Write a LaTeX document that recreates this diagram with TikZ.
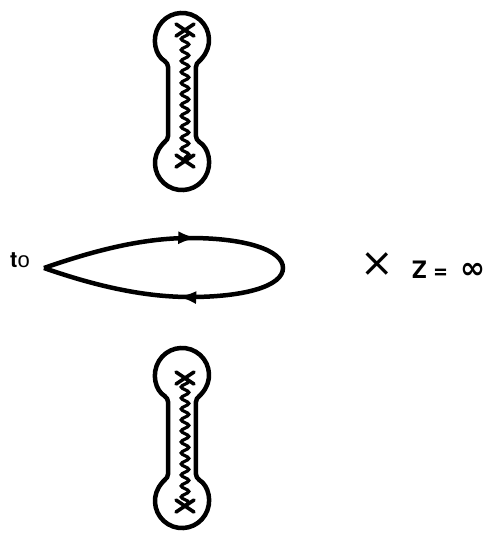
\documentclass[tikz,border=0pt]{standalone}
\usepackage{fontspec}
\setmainfont{Liberation Sans}
\newfontfamily\heavyfont{texgyreheros-bold}[Extension=.otf]
\newfontfamily\symfont{DejaVu Sans}
\newfontfamily\heavysym{DejaVu Sans Bold}
\usetikzlibrary{arrows.meta,calc,decorations.pathmorphing,decorations.markings}

\begin{document}
\begin{tikzpicture}[x=1pt, y=1pt, >={Latex[length=19pt,width=13pt]},
    bell/.style={line width=4.5pt, rounded corners=4pt},
    branch/.style={line width=3.2pt, decorate, decoration={snake, segment length=11pt, amplitude=3.8pt}},
    pole/.style={line width=3.6pt, line cap=round},
    loop path/.style={line width=4.5pt, postaction={decorate},
        decoration={markings, mark=at position 0.31 with {\arrow{>}}, mark=at position 0.73 with {\arrow{>}}}}]
    \useasboundingbox (0,0) rectangle (498,-539);

    % dumbbell contours around the two cuts
    \foreach \top/\bot/\pa/\pb in {40/163/30/161, 375/501/378/506} {
        \draw[bell] (168.1,-\top-23.1) arc[start angle=239, end angle=-59, radius=27]
            -- (195.9,-\bot+23.1) arc[start angle=59, end angle=-239, radius=27] -- cycle;
        \coordinate (pa) at (185,-\pa);
        \coordinate (pb) at (185,-\pb);
        \draw[branch] (pa) -- (pb);
        \draw[pole] ($(pa)+(-9,6)$) -- ($(pa)+(9,-6)$) ($(pa)+(-9,-6)$) -- ($(pa)+(9,6)$);
        \draw[pole] ($(pb)+(-9,6)$) -- ($(pb)+(9,-6)$) ($(pb)+(-9,-6)$) -- ($(pb)+(9,6)$);
    }

    % loop based at t0
    \coordinate (tip) at (44,-268);
    \coordinate (up) at (190,-238);
    \coordinate (rt) at (283,-268);
    \coordinate (dn) at (190,-297);
    \node[anchor=base west, inner sep=0pt] (tlab) at (10,-267)
        {\fontsize{22}{22}\selectfont{\heavyfont t}o};
    \draw[loop path] (tip) .. controls (90,-252) and (140,-238) .. (up)
        .. controls (245,-238) and (283,-250) .. (rt)
        .. controls (283,-286) and (245,-297) .. (dn)
        .. controls (140,-297) and (90,-284) .. (tip);

    % point at infinity
    \node[inner sep=0pt] (inf) at (377,-265) {\symfont\fontsize{40}{40}\selectfont ×};
    \node[anchor=base west, inner sep=0pt] (zlab) at (412,-278)
        {\fontsize{24}{24}\selectfont\heavyfont Z = \hspace{6pt}{\heavysym\fontsize{30}{30}\selectfont ∞}};
\end{tikzpicture}
\end{document}
